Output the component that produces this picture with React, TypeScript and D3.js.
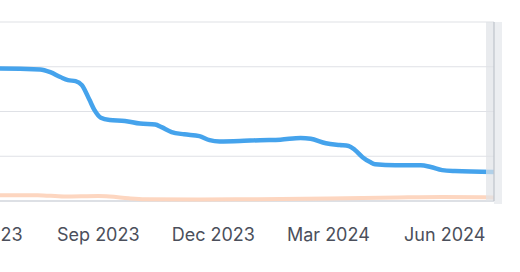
import React from "react";
import * as d3 from "d3";

const blueDates = [
  "2023-06-01","2023-06-15","2023-07-17","2023-07-25","2023-08-02","2023-08-08","2023-08-14",
  "2023-08-19","2023-08-25","2023-08-29","2023-09-03","2023-09-10","2023-09-22","2023-10-04",
  "2023-10-16","2023-10-21","2023-10-29","2023-11-08","2023-11-20","2023-11-28","2023-12-06",
  "2023-12-22","2024-01-07","2024-01-23","2024-02-08","2024-02-16","2024-02-28","2024-03-10",
  "2024-03-17","2024-03-22","2024-03-28","2024-04-03","2024-04-07","2024-04-23","2024-05-13",
  "2024-05-21","2024-05-30","2024-06-09","2024-07-10",
];
const blueValues = [
  296, 296, 294, 288, 277, 270, 268,
  259, 226, 203, 186, 181, 179, 173,
  171, 165, 154, 149, 145, 136, 133,
  134, 136, 137, 141, 139, 129, 125,
  123, 114, 98, 87, 82, 80, 80,
  76, 69, 67, 65,
];

const peachDates = [
  "2023-06-01","2023-07-15","2023-08-05","2023-09-01","2023-09-10","2023-09-25","2023-10-08",
  "2023-11-20","2024-01-05","2024-03-01","2024-04-25","2024-05-30","2024-07-10",
];
const peachValues = [13, 13, 10, 11, 10, 6, 4, 3.5, 4, 5.5, 8, 9, 8];

const tickDates = ["2023-06-01", "2023-09-01", "2023-12-01", "2024-03-01", "2024-06-01"];
const gridValues = [0, 100, 200, 300, 400];

const W = 520;
const H = 272;

export default function App() {
  const parse = d3.timeParse("%Y-%m-%d");
  const x = d3
    .scaleTime()
    .domain([parse("2023-06-01")!, parse("2024-07-10")!])
    .range([-18, 494]);
  const y = d3.scaleLinear().domain([0, 400]).range([201, 22]);
  const fmt = d3.timeFormat("%b %Y");

  const blue = blueDates.map((d, i) => ({ d: parse(d)!, v: blueValues[i] }));
  const peach = peachDates.map((d, i) => ({ d: parse(d)!, v: peachValues[i] }));

  const line = d3
    .line<{ d: Date; v: number }>()
    .x((p) => x(p.d))
    .y((p) => y(p.v))
    .curve(d3.curveMonotoneX);

  const right = x.range()[1];

  return (
    <svg
      width={W}
      height={H}
      style={{ position: "absolute", left: 0, top: 0, background: "#fff" }}
      fontFamily="Inter, 'Noto Sans', sans-serif"
    >
      {gridValues.slice(1).map((g) => (
        <line key={g} x1={0} x2={right} y1={y(g)} y2={y(g)} stroke="#dfe1e6" strokeWidth={1.2} />
      ))}
      <line x1={0} x2={right} y1={y(0)} y2={y(0)} stroke="#bcc1cc" strokeWidth={1.2} />
      <path d={line(peach) || ""} fill="none" stroke="#fdd6c0" strokeWidth={4} strokeLinecap="round" />
      <path d={line(blue) || ""} fill="none" stroke="#45a3ec" strokeWidth={4.5} strokeLinejoin="round" />
      <rect x={right - 8} y={y(400)} width={8} height={y(0) - y(400)} fill="#dfe3e7" opacity={0.7} />
      <rect x={right} y={y(400)} width={8} height={y(0) - y(400) + 3} fill="#eceef1" />
      <line x1={right} x2={right} y1={y(400)} y2={y(0)} stroke="#bfc4cb" strokeWidth={1.2} />
      {tickDates.map((t) => (
        <text
          key={t}
          x={x(parse(t)!)}
          y={241}
          textAnchor="middle"
          fontSize={18}
          fill="#4b4f5b"
        >
          {fmt(parse(t)!)}
        </text>
      ))}
    </svg>
  );
}
